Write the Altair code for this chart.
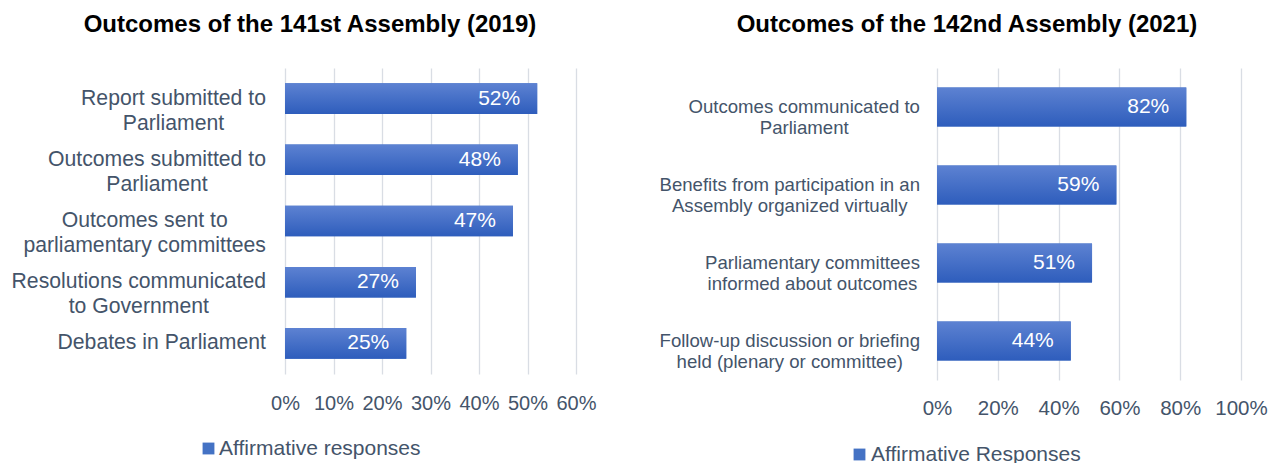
import altair as alt
import pandas as pd

# ---------------- data ----------------
left_title = "Outcomes of the 141st Assembly (2019)"
left_categories = [
    "Report submitted to|Parliament",
    "Outcomes submitted to|Parliament",
    "Outcomes sent to|parliamentary committees",
    "Resolutions communicated|to Government",
    "Debates in Parliament",
]
left_values = [0.52, 0.48, 0.47, 0.27, 0.25]
left_series = "Affirmative responses"
left_ticks = [0, 0.1, 0.2, 0.3, 0.4, 0.5, 0.6]

right_title = "Outcomes of the 142nd Assembly (2021)"
right_categories = [
    "Outcomes communicated to|Parliament",
    "Benefits from participation in an|Assembly organized virtually",
    "Parliamentary committees|informed about outcomes",
    "Follow-up discussion or briefing|held (plenary or committee)",
]
right_values = [0.82, 0.59, 0.51, 0.44]
right_series = "Affirmative Responses"
right_ticks = [0, 0.2, 0.4, 0.6, 0.8, 1.0]

# ---------------- styling helpers ----------------
FONT = "Liberation Sans"
TXT = "#44546A"
GRID = "#D9DDE4"

# Arial / Liberation Sans advance widths (1/1000 em) used to centre multi-line labels
_W = dict(zip("abcdefghijklmnopqrstuvwxyz",
              [556, 556, 500, 556, 556, 278, 556, 556, 222, 222, 500, 222, 833,
               556, 556, 556, 556, 333, 500, 278, 556, 500, 722, 500, 500, 500]))
_W.update(dict(zip("ABCDEFGHIJKLMNOPQRSTUVWXYZ",
                   [667, 667, 722, 722, 667, 611, 778, 722, 278, 500, 667, 556, 833,
                    722, 778, 667, 778, 722, 667, 611, 722, 667, 944, 667, 667, 611])))
_W.update({" ": 278, "(": 333, ")": 333, "-": 333})


def text_width(s, size):
    return sum(_W.get(c, 556) for c in s) * size / 1000.0


def label_x(cat, size, pad):
    w = max(text_width(line, size) for line in cat.split("|"))
    return -(pad + w / 2.0)


bar_grad = alt.Gradient(
    gradient="linear",
    stops=[alt.GradientStop(color="#5D82D2", offset=0),
           alt.GradientStop(color="#2E5DBC", offset=1)],
    x1=0, x2=0, y1=0, y2=1,
)


def panel(title, cats, vals, series, ticks, xmax, width, height,
          lab_size, lab_lh, lab_pad, tick_size, tick_pad, title_dx,
          leg_x, leg_y, leg_off):
    df = pd.DataFrame({"cat": cats, "value": vals, "series": series})
    df["lx"] = [label_x(c, lab_size, lab_pad) for c in cats]

    x = alt.X("value:Q",
              scale=alt.Scale(domain=[0, xmax], nice=False, zero=True),
              axis=alt.Axis(values=ticks, format=".0%", grid=True, gridColor=GRID,
                            gridWidth=1.3, ticks=False, domain=False, title=None,
                            labelFont=FONT, labelFontSize=tick_size, labelColor=TXT,
                            labelPadding=tick_pad, labelFlush=False))
    y = alt.Y("cat:N", sort=cats,
              scale=alt.Scale(paddingInner=0.5, paddingOuter=0.25),
              axis=None)

    base = alt.Chart(df)
    legend_bars = base.mark_bar(opacity=1).encode(
        x=x, y=y,
        color=alt.Color("series:N", scale=alt.Scale(range=["#4472C4"]),
                        legend=alt.Legend(orient="none", legendX=leg_x, legendY=leg_y,
                                          title=None, symbolType="square",
                                          symbolSize=140, symbolStrokeWidth=0,
                                          labelFont=FONT, labelFontSize=21,
                                          labelColor=TXT, labelOffset=leg_off,
                                          labelLimit=500, padding=0)),
    )
    bars = base.mark_bar(color=bar_grad).encode(x=x, y=y)
    vals_txt = base.mark_text(align="right", baseline="middle", dx=-17, color="white",
                              font=FONT, fontSize=21).encode(
        x=x, y=y, text=alt.Text("value:Q", format=".0%"))
    cat_txt = base.mark_text(align="center", baseline="middle", lineBreak="|",
                             lineHeight=lab_lh, font=FONT, fontSize=lab_size,
                             color=TXT).encode(
        x=alt.X("lx:Q", scale=None), y=y, text="cat:N")

    return alt.layer(legend_bars, bars, vals_txt, cat_txt).properties(
        width=width, height=height,
        title=alt.TitleParams(title, font=FONT, fontSize=24, fontWeight="bold",
                              color="#000000", anchor="middle", frame="group",
                              dx=title_dx, offset=31),
    )


left = panel(left_title, left_categories, left_values, left_series, left_ticks, 0.6,
             291, 306, 21.2, 25, 19, 20, 19, -120.5, -87, 370, 0)
right = panel(right_title, right_categories, right_values, right_series, right_ticks, 1.0,
              304, 312, 18.6, 21, 17, 20.5, 18, -122, -88, 376, 1)

chart = alt.hconcat(left, right, spacing=62).resolve_scale(
    x="independent", y="independent", color="independent"
).resolve_legend(color="independent").properties(
    padding={"left": 3, "top": 5, "right": 0, "bottom": 0}
).configure_view(stroke=None)

chart.save("out.html", embed_options={"renderer": "svg", "actions": False})
